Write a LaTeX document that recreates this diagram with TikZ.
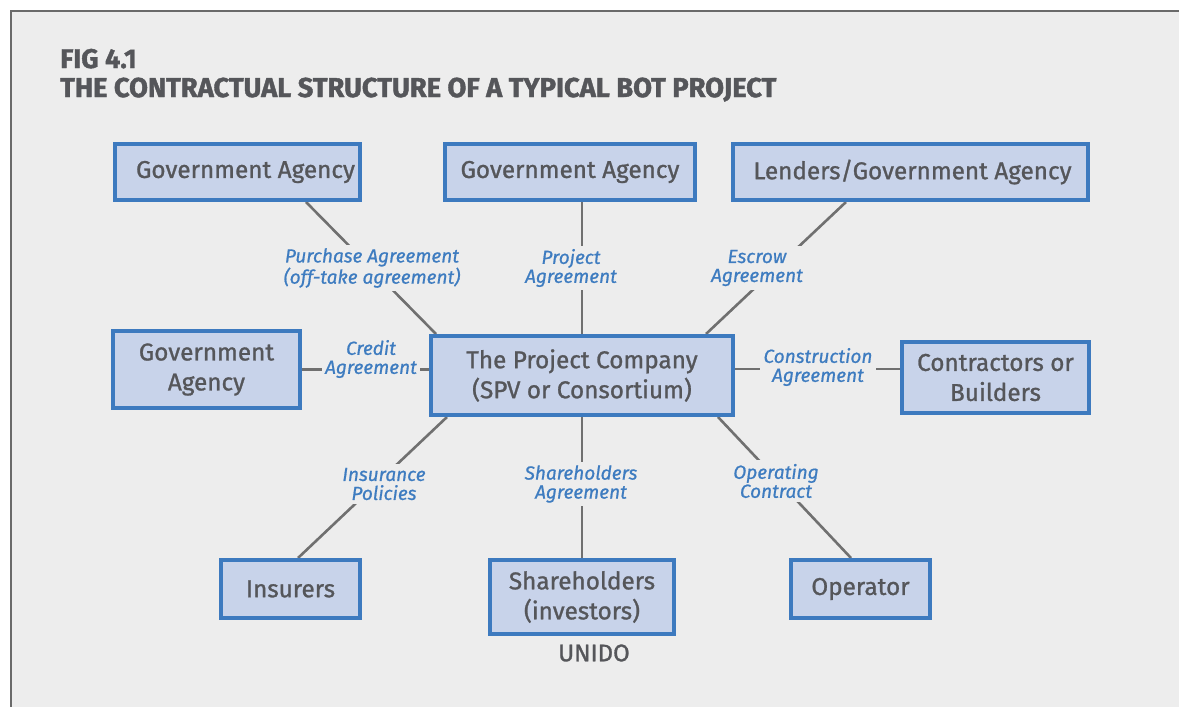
\documentclass[tikz,border=0pt]{standalone}
\usepackage{fontspec}
\setmainfont{Fira Sans}
\newfontfamily\titlefnt{Fira Sans Bold}[FakeBold=1.4]
\newfontfamily\boxfnt{Fira Sans}[FakeBold=1.1]
\newfontfamily\labfnt{Fira Sans Italic}[FakeBold=0.8]
\usetikzlibrary{calc}
\definecolor{bgc}{HTML}{EDEDED}
\definecolor{framec}{HTML}{6A6A6A}
\definecolor{boxblue}{HTML}{3D7ABF}
\definecolor{boxfill}{HTML}{C8D3EA}
\definecolor{txt}{HTML}{55565A}
\definecolor{labblue}{HTML}{3E7CC0}
\definecolor{linegray}{HTML}{707070}
\pgfdeclarelayer{back}
\pgfdeclarelayer{lines}
\pgfsetlayers{back,lines,main}
\tikzset{
  box/.style={draw=boxblue, fill=boxfill, line width=4pt, text=txt,
    font=\boxfnt\fontsize{24.3}{30}\selectfont, align=center, inner sep=0pt},
  lab/.style={fill=bgc, text=labblue, font=\labfnt\fontsize{19}{19}\selectfont,
    align=center, inner sep=3.5pt},
  conn/.style={draw=linegray, line width=2.6pt},
}
\begin{document}
\begin{tikzpicture}[x=1pt,y=-1pt]
\useasboundingbox (0,0) rectangle (1179,707);
\begin{pgfonlayer}{back}
\fill[white] (0,0) rectangle (1179,707);
\fill[bgc] (11,11) rectangle (1179,707);
\draw[framec, line width=2.5pt] (11,707) -- (11,11) -- (1179,11);
\end{pgfonlayer}

\node[anchor=base west, text=txt, font=\titlefnt\fontsize{27}{26}\selectfont, inner sep=0pt] (fig) at (60,68) {FIG 4.1};
\node[anchor=base west, text=txt, font=\titlefnt\fontsize{27.3}{26}\selectfont, inner sep=0pt] (title) at (60,97) {THE CONTRACTUAL STRUCTURE OF A TYPICAL BOT PROJECT};

\node[box, minimum width=245pt, minimum height=56pt] (ga1) at (237.5,172) {\hspace*{16pt}Government Agency};
\node[box, minimum width=250pt, minimum height=56pt] (ga2) at (570,172) {Government Agency};
\node[box, minimum width=355pt, minimum height=56pt] (lend) at (910.5,172) {\hspace*{4pt}Lenders/Government Agency};
\node[box, minimum width=187pt, minimum height=77pt] (gal) at (206.5,369.5) {Government\\Agency};
\node[box, minimum width=302pt, minimum height=79pt] (pc) at (582,375.5) {The Project Company\\(SPV or Consortium)};
\node[box, minimum width=187pt, minimum height=71pt] (con) at (995.5,377.5) {Contractors or\\Builders};
\node[box, minimum width=139pt, minimum height=58pt] (ins) at (290.5,589) {Insurers};
\node[box, minimum width=184pt, minimum height=74pt] (sh) at (582,597) {Shareholders\\(investors)};
\node[box, minimum width=139pt, minimum height=58pt] (op) at (860.5,589) {Operator};

\node[text=txt, font=\boxfnt\fontsize{24}{24}\selectfont, inner sep=0pt] (unido) at (594,653) {UNIDO};

\begin{pgfonlayer}{lines}
\draw[conn] ([xshift=68.5pt]ga1.south) -- ([xshift=-146pt]pc.north);
\draw[conn] (pc.north |- ga2.south) -- (pc.north);
\draw[conn] ([xshift=-64.5pt]lend.south) -- ([xshift=124pt]pc.north);
\draw[conn] (gal.east) -- (gal.east -| pc.west);
\draw[conn] ([yshift=6.5pt]pc.east) -- ([yshift=6.5pt]pc.east -| con.west);
\draw[conn] ([xshift=-135pt]pc.south) -- ([xshift=7.5pt]ins.north);
\draw[conn] (pc.south) -- (sh.north);
\draw[conn] ([xshift=136pt]pc.south) -- ([xshift=-9.5pt]op.north);
\end{pgfonlayer}

\node[lab] (l1) at (372,268) {Purchase Agreement\\(off-take agreement)};
\node[lab] (l2) at (571,268) {Project\\Agreement};
\node[lab] (l3) at (757,268) {Escrow\\Agreement};
\node[lab] (l4) at (371,359) {Credit\\Agreement};
\node[lab] (l5) at (818,367) {Construction\\Agreement};
\node[lab] (l6) at (384,484) {Insurance\\Policies};
\node[lab] (l7) at (581,484) {Shareholders\\Agreement};
\node[lab] (l8) at (776,481) {Operating\\Contract};
\end{tikzpicture}
\end{document}
